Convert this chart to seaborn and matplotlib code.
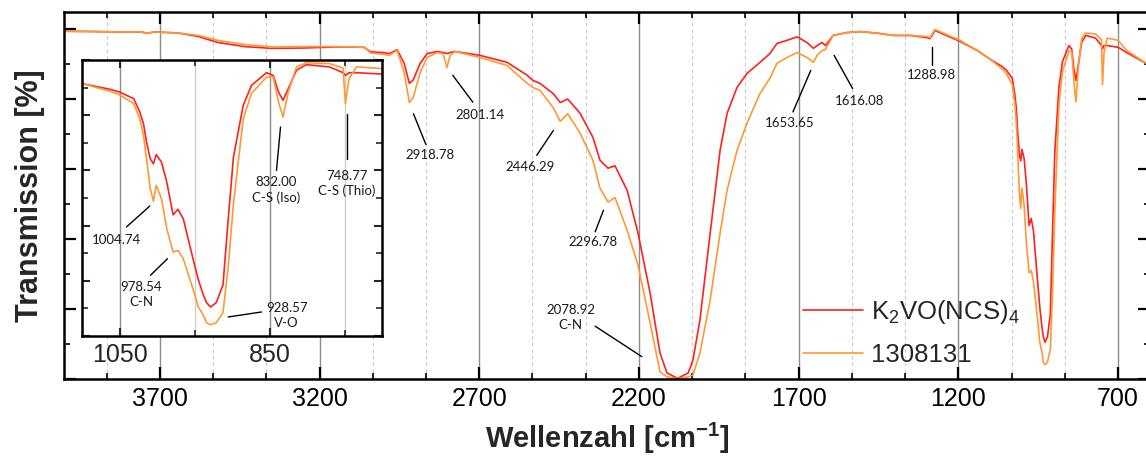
import matplotlib
matplotlib.use("Agg")
import matplotlib.pyplot as plt
import numpy as np
import pandas as pd
import seaborn as sns
from matplotlib.ticker import FixedLocator, AutoMinorLocator, MultipleLocator, NullFormatter

# ---------------------------------------------------------------- data
wavenumber = [
    4000, 3900, 3840, 3760, 3738, 3720, 3644, 3580, 3519, 3435, 3350, 3250, 3150,
    3060, 3040, 3000, 2982, 2957, 2935, 2918.78, 2907, 2885, 2863, 2832, 2813,
    2801.14, 2791, 2776, 2698, 2613, 2550, 2532, 2510, 2469, 2446.29, 2423, 2384,
    2344, 2322, 2296.78, 2275, 2237, 2203, 2165, 2134, 2112, 2078.92, 2046, 2031,
    2009, 1977, 1946, 1924, 1893, 1862, 1821, 1790, 1768, 1736, 1705, 1674,
    1653.65, 1642, 1627, 1616.08, 1592, 1550, 1508, 1450, 1404, 1351, 1300,
    1288.98, 1273, 1195, 1141, 1099, 1063, 1050, 1031, 1023, 1018, 1014, 1009,
    1004.74, 1001, 994, 987, 978.54, 972, 965, 952, 945, 938, 934, 928.57, 921,
    912, 905, 898, 885, 874, 854, 845, 838, 832.00, 825, 814, 801, 770, 752,
    748.77, 744, 734, 700, 673, 612, 600,
]
t_k2vo = [
    99.5, 99.4, 99.3, 99.3, 98.9, 99.3, 99.0, 98.0, 96.3, 95.1, 94.6, 94.7, 95.0,
    94.9, 93.6, 93.4, 93.1, 94.2, 90.3, 84.6, 85.5, 90.3, 93.1, 93.7, 93.4,
    93.1, 93.4, 93.7, 92.6, 90.6, 86.9, 85.4, 84.6, 81.7, 79.1, 80.1, 76.0,
    69.1, 62.6, 60.3, 61.0, 54.0, 41.8, 24.6, 7.4, 1.7, 0.2, 1.7, 5.4,
    16.9, 41.7, 65.4, 76.0, 83.4, 87.4, 90.6, 93.1, 96.0, 96.9, 97.9, 96.3,
    94.6, 95.4, 96.3, 95.4, 98.3, 99.1, 99.4, 98.9, 98.3, 98.3, 97.7,
    97.4, 99.7, 96.6, 94.0, 91.4, 89.4, 88.4, 86.0, 81.2, 76.9, 70.3, 64.2,
    62.4, 65.7, 63.0, 55.8, 43.9, 45.9, 42.5, 28.0, 20.5, 14.7, 12.1, 10.5, 12.1,
    18.5, 42.5, 65.0, 83.6, 90.8, 95.4, 94.4, 88.4, 85.4, 89.6, 96.3, 98.3, 97.5, 95.4,
    94.4, 95.4, 95.4, 94.9, 93.4, 90.3, 89.6,
]
t_1308131 = [
    99.5, 99.4, 99.3, 99.3, 98.9, 99.3, 99.0, 98.3, 96.9, 95.7, 95.0, 95.1, 95.1,
    94.9, 93.3, 92.9, 92.6, 94.0, 87.7, 79.1, 80.5, 87.7, 92.0, 93.4, 93.1,
    89.1, 92.6, 93.7, 92.0, 89.7, 84.6, 83.4, 82.6, 77.7, 73.7, 75.9, 70.3,
    62.6, 54.6, 50.6, 51.9, 42.6, 32.6, 16.0, 2.0, 0.6, 0.1, 0.6, 1.1,
    7.4, 22.6, 41.7, 54.0, 65.4, 73.1, 81.7, 86.0, 90.3, 92.0, 93.4, 92.0,
    90.6, 92.6, 94.0, 94.3, 98.3, 99.1, 99.4, 98.9, 98.3, 98.3, 98.0,
    97.7, 100.0, 96.9, 94.0, 91.4, 88.7, 87.4, 84.2, 78.7, 72.7, 64.2, 53.4,
    48.8, 54.6, 49.7, 38.9, 30.4, 31.0, 28.0, 17.1, 10.5, 7.5, 4.8, 4.1, 4.8,
    8.5, 25.3, 48.1, 78.7, 87.9, 93.8, 93.8, 84.8, 79.3, 88.4, 97.5, 99.0, 98.7, 97.1,
    84.2, 93.2, 97.5, 96.9, 94.0, 90.3, 89.6,
]

series_names = [r"$\mathrm{K_2VO(NCS)_4}$", "1308131"]
series_colors = ["#FF2020", "#FF9933"]

main_xticks = [3700, 3200, 2700, 2200, 1700, 1200, 700]
inset_xticks = [1050, 850]

# peak labels: text, text position (cm-1, %), leader line start/end (cm-1, %)
main_peaks = [
    ("2918.78", (2854, 64.0), (2906, 75.9), (2867, 67.1)),
    ("2801.14", (2697, 75.4), (2783, 86.9), (2720, 79.2)),
    ("2446.29", (2541, 60.6), (2468, 71.1), (2520, 64.0)),
    ("2296.78", (2344, 39.1), (2311, 48.3), (2337, 42.1)),
    ("2078.92\nC-N", (2413, 17.6), (2337, 15.1), (2191, 6.4)),
    ("1653.65", (1727, 73.1), (1662, 88.3), (1718, 76.4)),
    ("1616.08", (1508, 79.5), (1589, 92.6), (1531, 83.1)),
    ("1288.98", (1283, 86.9), (1282, 94.9), (1282, 89.7)),
]
inset_peaks = [
    ("1004.74", (1054, 34.7), (1009.6, 47.1), (1040.7, 39.5)),
    ("978.54\nC-N", (1020.7, 15.1), (986, 28.0), (1008.7, 22.0)),
    ("928.57\nV-O", (827.3, 7.3), (905, 6.9), (860.7, 8.7)),
    ("832.00\nC-S (Iso)", (841.6, 53.0), (835.3, 75.7), (840.7, 60.0)),
    ("748.77\nC-S (Thio)", (747.3, 55.3), (747.3, 80.5), (747.3, 64.2)),
]

# ---------------------------------------------------------------- style
sns.set_theme(style="ticks")
plt.rcParams["font.family"] = ["Liberation Sans", "DejaVu Sans"]
plt.rcParams["mathtext.fontset"] = "custom"
plt.rcParams["mathtext.rm"] = "Liberation Sans"
plt.rcParams["mathtext.it"] = "Liberation Sans:italic"
plt.rcParams["mathtext.bf"] = "Liberation Sans:bold"

W, H = 1146, 458
fig = plt.figure(figsize=(W / 100, H / 100), dpi=100)

df = pd.DataFrame({
    "Wellenzahl": wavenumber * 2,
    "Transmission": t_k2vo + t_1308131,
    "Probe": [series_names[0]] * len(wavenumber) + [series_names[1]] * len(wavenumber),
})
palette = dict(zip(series_names, series_colors))

def px_box(x0, y0, x1, y1):
    return [x0 / W, (H - y1) / H, (x1 - x0) / W, (y1 - y0) / H]

# ---------------------------------------------------------------- main axes
ax = fig.add_axes(px_box(64, 12, 1150, 379))
sns.lineplot(data=df, x="Wellenzahl", y="Transmission", hue="Probe",
             hue_order=series_names, palette=palette, estimator=None,
             linewidth=1.2, ax=ax)
ax.set_xlim(4000, 600)
ax.set_ylim(0, 105)
ax.xaxis.set_major_locator(FixedLocator(main_xticks))
ax.xaxis.set_minor_locator(AutoMinorLocator(3))
ax.yaxis.set_major_locator(MultipleLocator(20))
ax.yaxis.set_minor_locator(AutoMinorLocator(2))
ax.yaxis.set_major_formatter(NullFormatter())
ax.tick_params(which="both", direction="in", top=True, right=True, labelleft=False,
               colors="black")
ax.tick_params(which="major", length=8.5, width=1.6, labelsize=18, pad=6)
ax.tick_params(which="minor", length=4, width=1.2)
ax.grid(which="major", axis="x", color="#8c8c8c", linewidth=1.0, linestyle="-")
ax.grid(which="minor", axis="x", color="#c8c8c8", linewidth=0.8, linestyle=(0, (3, 3)))
for s in ax.spines.values():
    s.set_linewidth(1.8)
    s.set_color("black")
ax.set_xlabel(r"Wellenzahl [cm$^{\mathbf{-1}}$]", fontsize=21, fontweight="bold", labelpad=7)
ax.set_ylabel("Transmission [%]", fontsize=22, fontweight="bold", labelpad=14)

handles, labels = ax.get_legend_handles_labels()
ax.legend(handles, labels, loc="upper left", bbox_to_anchor=(803 / W, (H - 298) / H),
          bbox_transform=fig.transFigure, frameon=False, fontsize=18.5,
          handlelength=2.35, handletextpad=0.3, labelspacing=0.65,
          borderpad=0, borderaxespad=0)

ann_font = dict(family="Lato", fontsize=9.5, color="#1a1a1a")
for text, (tx, ty), (lx0, ly0), (lx1, ly1) in main_peaks:
    ax.text(tx, ty, text, ha="center", va="center", linespacing=1.3, **ann_font)
    ax.plot([lx0, lx1], [ly0, ly1], color="black", linewidth=1.0)

# ---------------------------------------------------------------- inset
axin = fig.add_axes(px_box(82, 60, 382, 336))
axin.set_facecolor("white")
axin.set_zorder(ax.get_zorder() + 1)
sns.lineplot(data=df, x="Wellenzahl", y="Transmission", hue="Probe",
             hue_order=series_names, palette=palette, estimator=None,
             linewidth=1.2, legend=False, ax=axin)
axin.set_xlim(1100, 700)
axin.set_ylim(0, 100)
axin.set_xlabel("")
axin.set_ylabel("")
axin.xaxis.set_major_locator(FixedLocator(inset_xticks))
axin.xaxis.set_minor_locator(AutoMinorLocator(2))
axin.yaxis.set_major_locator(MultipleLocator(20))
axin.yaxis.set_minor_locator(AutoMinorLocator(2))
axin.tick_params(which="both", direction="in", top=True, right=True, labelleft=False)
axin.tick_params(which="major", length=6, width=1.5, labelsize=18, pad=5)
axin.tick_params(which="minor", length=4.5, width=1.2)
axin.grid(which="major", axis="x", color="#8c8c8c", linewidth=1.0, linestyle="-")
axin.grid(which="minor", axis="x", color="#cfcfcf", linewidth=1.0, linestyle="-")
for s in axin.spines.values():
    s.set_linewidth(1.8)
    s.set_color("black")

for text, (tx, ty), (lx0, ly0), (lx1, ly1) in inset_peaks:
    axin.text(tx, ty, text, ha="center", va="center", linespacing=1.3, **ann_font)
    axin.plot([lx0, lx1], [ly0, ly1], color="black", linewidth=1.0)

fig.savefig("out.png", dpi=100)
